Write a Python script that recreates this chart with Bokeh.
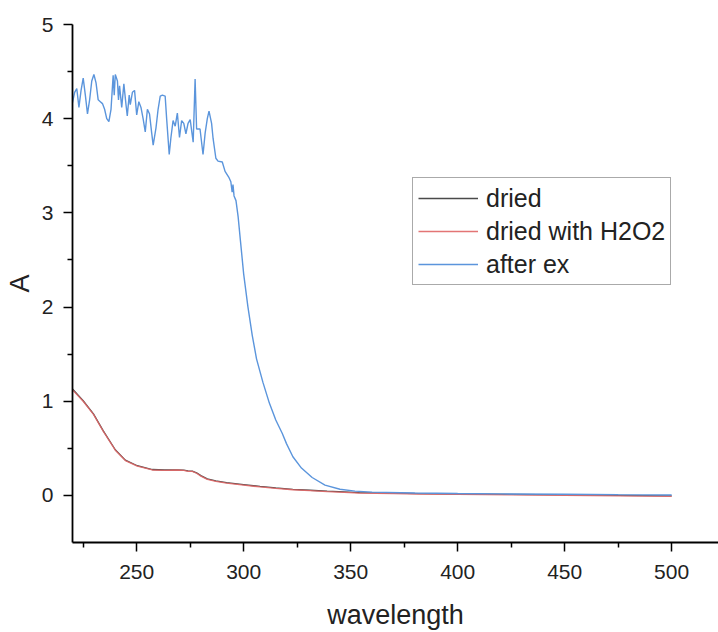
from bokeh.plotting import figure
from bokeh.models import FixedTicker, Range1d, Legend, LegendItem
from bokeh.embed import file_html
from bokeh.resources import INLINE

# ---- data ----
after_ex_wl = [220, 221, 222, 223, 224, 225, 226, 227, 228, 229, 230, 231, 232, 233, 234, 235,
               236, 237, 238, 239, 239.5, 240, 241, 241.5, 242, 243, 244, 245, 245.6, 246.5,
               247, 248, 249, 250, 251, 252, 253, 254, 255, 256, 257, 257.7, 259, 260, 261,
               262, 263.3, 264, 265.2, 266, 267, 268, 269, 270, 271, 272, 273, 274, 275,
               276.4, 277.3, 278, 279.6, 281, 282, 283, 283.8, 285, 285.7, 287, 288, 290,
               291.3, 293, 294, 294.6, 295, 295.5, 296.4, 297.4, 298.5, 300, 302, 304, 306,
               309, 312, 315, 318, 320, 323, 327, 332, 338, 345, 352, 360, 380, 400, 420,
               450, 475, 500]
after_ex_a = [4.17, 4.28, 4.32, 4.12, 4.30, 4.43, 4.25, 4.05, 4.20, 4.40, 4.47, 4.38, 4.20, 4.18,
              4.16, 4.10, 4.00, 3.97, 4.10, 4.46, 4.25, 4.47, 4.40, 4.20, 4.35, 4.12, 4.37,
              4.15, 4.03, 4.25, 4.15, 4.28, 4.30, 4.04, 4.18, 4.12, 4.00, 3.86, 4.10, 4.05,
              3.85, 3.72, 3.90, 4.10, 4.24, 4.25, 4.24, 4.00, 3.62, 3.80, 3.98, 3.92, 4.06,
              3.80, 3.98, 3.95, 3.84, 3.95, 3.99, 3.75, 4.42, 3.89, 3.89, 3.62, 3.85, 4.00,
              4.08, 3.95, 3.79, 3.58, 3.55, 3.54, 3.44, 3.38, 3.33, 3.22, 3.30, 3.18, 3.13,
              2.96, 2.70, 2.35, 2.00, 1.70, 1.45, 1.20, 0.98, 0.80, 0.66, 0.55, 0.41, 0.29,
              0.19, 0.11, 0.065, 0.045, 0.035, 0.025, 0.020, 0.016, 0.012, 0.008, 0.005]

h2o2_wl = [220, 225, 229.8, 234.4, 240, 244.7, 250.3, 257.3, 263, 269, 272, 274, 276, 278,
           280, 283, 287, 292, 300, 307.6, 315, 323, 331, 339, 347, 354, 370, 382, 400,
           425, 450, 475, 500]
h2o2_a = [1.12, 1.00, 0.86, 0.68, 0.48, 0.37, 0.31, 0.27, 0.265, 0.27, 0.265, 0.255, 0.255,
          0.235, 0.205, 0.17, 0.15, 0.13, 0.11, 0.09, 0.075, 0.06, 0.05, 0.04, 0.032, 0.025,
          0.02, 0.015, 0.01, 0.005, 0.0, -0.005, -0.01]

dried_wl = [220, 225, 229.8, 234.4, 240, 244.7, 250.3, 257.3, 263, 269, 272, 274, 276, 278,
            280, 283, 287, 292, 300, 307.6, 315, 323, 331, 339, 347, 354, 370, 382, 400,
            425, 450, 475, 500]
dried_a = [1.13, 1.005, 0.865, 0.685, 0.485, 0.375, 0.315, 0.275, 0.27, 0.272, 0.268, 0.26,
           0.258, 0.24, 0.21, 0.175, 0.155, 0.135, 0.115, 0.095, 0.08, 0.065, 0.055, 0.045,
           0.037, 0.03, 0.025, 0.02, 0.015, 0.01, 0.005, 0.0, -0.005]

x_ticks = [250, 300, 350, 400, 450, 500]
x_minor = [225, 275, 325, 375, 425, 475, 525]
y_ticks = [0, 1, 2, 3, 4, 5]
y_minor = [0.5, 1.5, 2.5, 3.5, 4.5]

FONT = "Liberation Sans"

p = figure(width=718, height=632, output_backend="svg", toolbar_location=None,
           x_range=Range1d(220, 521.9), y_range=Range1d(-0.5, 5.0),
           min_border_left=72, min_border_right=0, min_border_top=24, min_border_bottom=81)
p.outline_line_color = None
p.xgrid.visible = False
p.ygrid.visible = False
p.background_fill_color = "white"

r_dried = p.line(dried_wl, dried_a, line_color="#4a4a4a", line_width=1.3)
r_h2o2 = p.line(h2o2_wl, h2o2_a, line_color="#e06666", line_width=1.3, line_alpha=0.9)
r_after = p.line(after_ex_wl, after_ex_a, line_color="#5b95dc", line_width=1.4)

for ax in (p.xaxis[0], p.yaxis[0]):
    ax.axis_line_color = "black"
    ax.axis_line_width = 1.8
    ax.major_tick_line_color = "black"
    ax.minor_tick_line_color = "black"
    ax.major_tick_line_width = 1.5
    ax.minor_tick_line_width = 1.5
    ax.major_tick_in = 0
    ax.minor_tick_in = 0
    ax.major_tick_out = 9
    ax.minor_tick_out = 5
    ax.major_label_text_font = FONT
    ax.major_label_text_font_size = "21px"
    ax.major_label_text_color = "#222222"
    ax.axis_label_text_font = FONT
    ax.axis_label_text_font_size = "27px"
    ax.axis_label_text_font_style = "normal"
    ax.axis_label_text_color = "#222222"

p.xaxis[0].ticker = FixedTicker(ticks=x_ticks, minor_ticks=x_minor)
p.yaxis[0].ticker = FixedTicker(ticks=y_ticks, minor_ticks=y_minor)
p.xaxis[0].axis_label = "wavelength"
p.yaxis[0].axis_label = "A"
p.xaxis[0].major_label_standoff = 13
p.yaxis[0].major_label_standoff = 10
p.xaxis[0].axis_label_standoff = 18
p.yaxis[0].axis_label_standoff = 4

legend = Legend(items=[LegendItem(label="dried", renderers=[r_dried]),
                       LegendItem(label="dried with H2O2", renderers=[r_h2o2]),
                       LegendItem(label="after ex", renderers=[r_after])],
                location=(340, 257))
legend.label_text_font = FONT
legend.label_text_font_size = "25px"
legend.label_text_color = "#222222"
legend.border_line_color = "#555555"
legend.border_line_width = 1.5
legend.background_fill_color = "white"
legend.background_fill_alpha = 1
legend.padding = 5
legend.margin = 0
legend.spacing = 3
legend.glyph_width = 60
legend.glyph_height = 30
legend.label_height = 30
legend.label_standoff = 8
p.add_layout(legend, "center")

open("out.html", "w").write(file_html(p, INLINE))
